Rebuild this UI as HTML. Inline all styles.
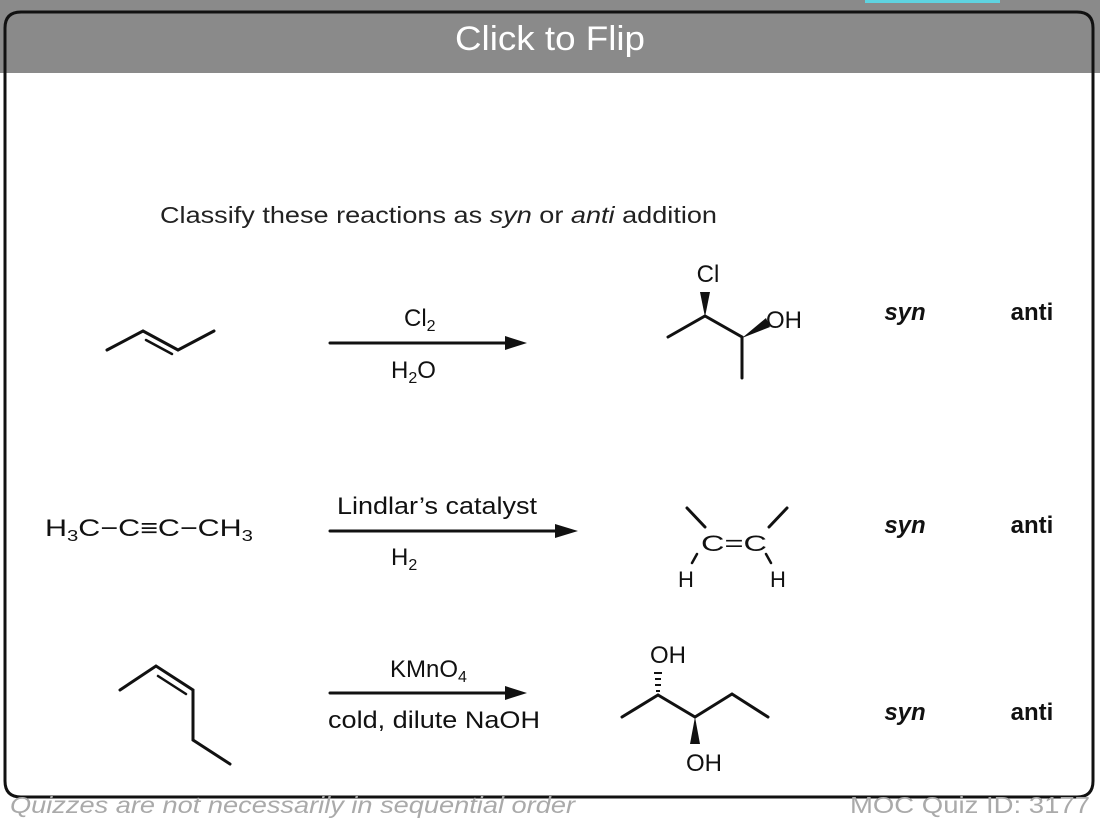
<!DOCTYPE html>
<html><head><meta charset="utf-8"><style>
html,body{margin:0;padding:0;background:#fff;width:1100px;height:828px;overflow:hidden;font-family:"Liberation Sans",Arial,sans-serif}
svg{position:absolute;left:0;top:0}
</style></head><body>
<svg width="1100" height="828" viewBox="0 0 1100 828" font-family="Liberation Sans, Arial, sans-serif">
<rect x="0" y="0" width="1100" height="73" fill="#8a8a8a"/>
<rect x="865" y="0" width="135" height="3" fill="#5fd3e0"/>
<path d="M5,73 L5,28 Q5,12 21,12 L1077,12 Q1093,12 1093,28 L1093,73" fill="none" stroke="#111" stroke-width="3"/>
<path d="M5,73 L5,781 Q5,797 21,797 L1077,797 Q1093,797 1093,781 L1093,73" fill="none" stroke="#111" stroke-width="3"/>
<text x="455" y="50" fill="#fff" font-size="34" textLength="190" lengthAdjust="spacingAndGlyphs">Click to Flip</text>

<text x="160" y="223" font-size="23" fill="#222" textLength="557" lengthAdjust="spacingAndGlyphs">Classify these reactions as <tspan font-style="italic">syn</tspan> or <tspan font-style="italic">anti</tspan> addition</text>

<g stroke="#111" stroke-width="3" fill="none" stroke-linecap="round">
<polyline points="107,350 143,331 178,350 214,331"/>
<line x1="146" y1="340" x2="172" y2="354" stroke-width="2.5"/>
<line x1="330" y1="343" x2="505" y2="343"/>
<line x1="330" y1="531" x2="555" y2="531"/>
<line x1="330" y1="693" x2="505" y2="693"/>
<polyline points="668,337 705,316 742,337 742,378"/>
<line x1="687" y1="508" x2="705" y2="527"/>
<line x1="769" y1="527" x2="787" y2="508"/>
<line x1="697" y1="554" x2="692" y2="563" stroke-width="2.5"/>
<line x1="766" y1="554" x2="771" y2="563" stroke-width="2.5"/>
<polyline points="120,690 156,666 193,690 193,740 230,764"/>
<line x1="158" y1="676" x2="186" y2="694" stroke-width="2.5"/>
<polyline points="622,717 658,695 695,717 732,694 768,717"/>
</g>
<g fill="#111">
<polygon points="505,336 527,343 505,350"/>
<polygon points="555,524 578,531 555,538"/>
<polygon points="505,686 527,693 505,700"/>
<polygon points="705,317 700,292 710,292"/>
<polygon points="742,338 766,318 770,327"/>
<polygon points="695,717 690,744 700,744"/>
<rect x="656" y="690" width="4" height="2"/><rect x="655" y="684" width="6" height="2"/><rect x="655" y="678" width="6" height="2"/><rect x="654" y="672" width="8" height="2"/>
</g>
<g fill="#111" font-size="24">
<text x="404" y="326">Cl<tspan font-size="16" dy="5">2</tspan></text>
<text x="391" y="378">H<tspan font-size="16" dy="5">2</tspan><tspan dy="-5">O</tspan></text>
<text x="708" y="282" text-anchor="middle">Cl</text>
<text x="766" y="328">OH</text>
<text x="45" y="536" textLength="208" lengthAdjust="spacingAndGlyphs">H<tspan font-size="16" dy="5">3</tspan><tspan dy="-5">C−C≡C−CH</tspan><tspan font-size="16" dy="5">3</tspan></text>
<text x="337" y="514" textLength="200" lengthAdjust="spacingAndGlyphs">Lindlar’s catalyst</text>
<text x="391" y="565">H<tspan font-size="16" dy="5">2</tspan></text>
<text x="734" y="551" text-anchor="middle" font-size="22" textLength="66" lengthAdjust="spacingAndGlyphs">C=C</text>
<text x="686" y="587" text-anchor="middle" font-size="22">H</text>
<text x="778" y="587" text-anchor="middle" font-size="22">H</text>
<text x="390" y="677">KMnO<tspan font-size="16" dy="5">4</tspan></text>
<text x="328" y="728" textLength="212" lengthAdjust="spacingAndGlyphs">cold, dilute NaOH</text>
<text x="668" y="663" text-anchor="middle">OH</text>
<text x="704" y="771" text-anchor="middle">OH</text>
<g font-weight="bold">
<text x="905" y="320" text-anchor="middle" font-style="italic">syn</text>
<text x="1032" y="320" text-anchor="middle">anti</text>
<text x="905" y="533" text-anchor="middle" font-style="italic">syn</text>
<text x="1032" y="533" text-anchor="middle">anti</text>
<text x="905" y="720" text-anchor="middle" font-style="italic">syn</text>
<text x="1032" y="720" text-anchor="middle">anti</text>
</g>
</g>
<text x="10" y="813" font-size="23" font-style="italic" fill="#aaa" textLength="565" lengthAdjust="spacingAndGlyphs">Quizzes are not necessarily in sequential order</text>
<text x="850" y="813" font-size="23" fill="#aaa" textLength="240" lengthAdjust="spacingAndGlyphs">MOC Quiz ID: 3177</text>
</svg>
</body></html>
